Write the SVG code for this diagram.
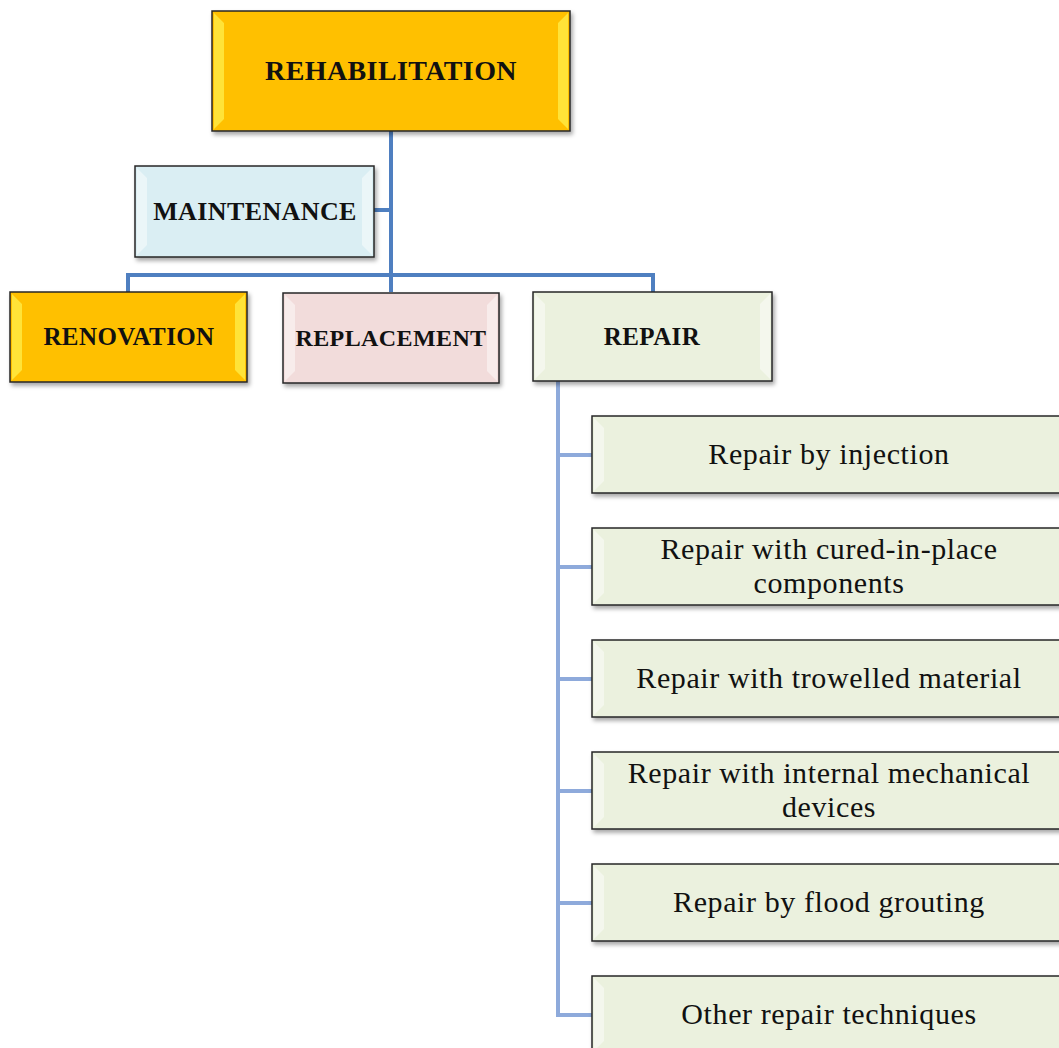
<svg xmlns="http://www.w3.org/2000/svg" width="1059" height="1048" viewBox="0 0 1059 1048">
<defs>
<filter id="sh" x="-10%" y="-10%" width="120%" height="130%">
<feDropShadow dx="2" dy="3" stdDeviation="2" flood-color="#000" flood-opacity="0.35"/>
</filter>
<style>
.box{stroke:#262626;stroke-width:1.5;filter:url(#sh)}
.gold{fill:#FFC000}
.blue{fill:#DAEEF3}
.pink{fill:#F2DCDB}
.green{fill:#EBF1DE}
.bev{fill:#ffffff;opacity:0.45}
.bevg{fill:#FFFF66;opacity:0.55}
.t{font-family:"Liberation Serif","DejaVu Serif",serif;fill:#111;text-anchor:middle}
.b{font-weight:bold;letter-spacing:0.4px}
.r{font-size:30px;letter-spacing:0.6px}
.c1{stroke:#4F7FC0;stroke-width:4;fill:none}
.c2{stroke:#8EAADB;stroke-width:4;fill:none}
</style>
</defs>
<g id="connectors">
<path class="c1" d="M391,131 V292"/>
<path class="c1" d="M374,210 H391"/>
<path class="c1" d="M128,292 V275 H653 V292"/>
<path class="c2" d="M558,381 V1015 H592"/>
<path class="c2" d="M558,455 H592 M558,567 H592 M558,679 H592 M558,791 H592 M558,903 H592"/>
</g>
<g id="rehabilitation">
<rect class="box gold" x="212" y="11" width="358" height="120"/>
<path class="bevg" d="M214,13 L224,23 V119 L214,129 Z M568,13 L558,23 V119 L568,129 Z"/>
<text class="t b" x="391" y="80" font-size="28">REHABILITATION</text>
</g>
<g id="maintenance">
<rect class="box blue" x="135" y="166" width="239" height="91"/>
<path class="bev" d="M137,168 L147,178 V245 L137,255 Z M372,168 L362,178 V245 L372,255 Z"/>
<text class="t b" x="255" y="220" font-size="26">MAINTENANCE</text>
</g>
<g id="renovation">
<rect class="box gold" x="10" y="292" width="237" height="90"/>
<path class="bevg" d="M12,294 L22,304 V370 L12,380 Z M245,294 L235,304 V370 L245,380 Z"/>
<text class="t b" x="129" y="345" font-size="25">RENOVATION</text>
</g>
<g id="replacement">
<rect class="box pink" x="283" y="293" width="216" height="90"/>
<path class="bev" d="M285,295 L295,305 V371 L285,381 Z M497,295 L487,305 V371 L497,381 Z"/>
<text class="t b" x="391" y="346" font-size="24" letter-spacing="0">REPLACEMENT</text>
</g>
<g id="repair">
<rect class="box green" x="533" y="292" width="239" height="89"/>
<path class="bev" d="M535,294 L545,304 V369 L535,379 Z M770,294 L760,304 V369 L770,379 Z"/>
<text class="t b" x="652" y="345" font-size="25">REPAIR</text>
</g>
<g id="injection">
<rect class="box green" x="592" y="416" width="474" height="77"/>
<path class="bev" d="M594,418 L604,428 V481 L594,491 Z"/>
<text class="t r" x="829" y="464">Repair by injection</text>
</g>
<g id="cured">
<rect class="box green" x="592" y="528" width="474" height="77"/>
<path class="bev" d="M594,530 L604,540 V593 L594,603 Z"/>
<text class="t r" x="829" y="559">Repair with cured-in-place</text>
<text class="t r" x="829" y="593">components</text>
</g>
<g id="trowelled">
<rect class="box green" x="592" y="640" width="474" height="77"/>
<path class="bev" d="M594,642 L604,652 V705 L594,715 Z"/>
<text class="t r" x="829" y="688">Repair with trowelled material</text>
</g>
<g id="mechanical">
<rect class="box green" x="592" y="752" width="474" height="77"/>
<path class="bev" d="M594,754 L604,764 V817 L594,827 Z"/>
<text class="t r" x="829" y="783">Repair with internal mechanical</text>
<text class="t r" x="829" y="817">devices</text>
</g>
<g id="flood">
<rect class="box green" x="592" y="864" width="474" height="77"/>
<path class="bev" d="M594,866 L604,876 V929 L594,939 Z"/>
<text class="t r" x="829" y="912">Repair by flood grouting</text>
</g>
<g id="other">
<rect class="box green" x="592" y="976" width="474" height="77"/>
<path class="bev" d="M594,978 L604,988 V1041 L594,1051 Z"/>
<text class="t r" x="829" y="1024">Other repair techniques</text>
</g>
</svg>
